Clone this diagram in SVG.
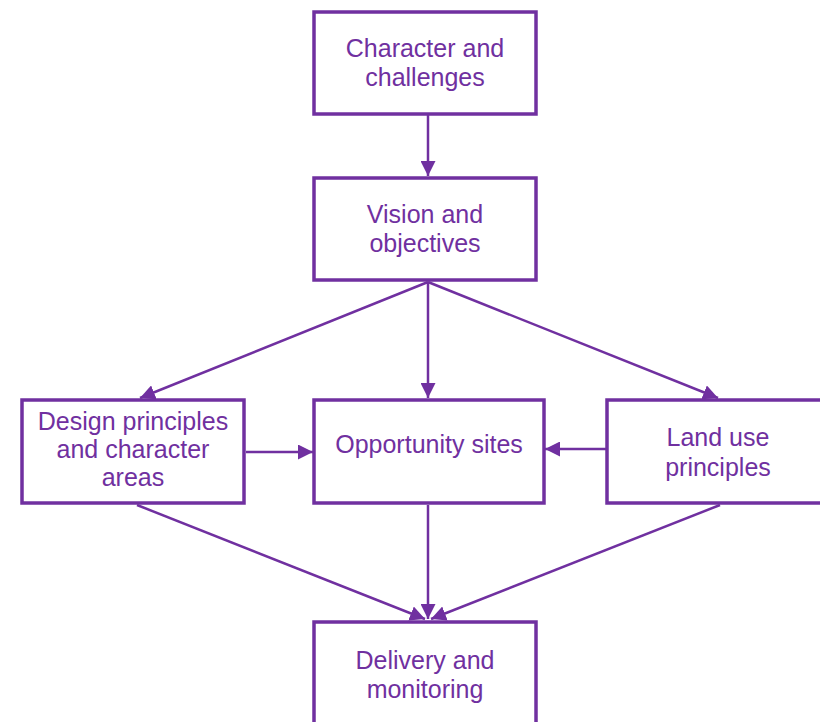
<svg xmlns="http://www.w3.org/2000/svg" width="820" height="722" viewBox="0 0 820 722">
<defs>
<style>
.box{fill:#fff;stroke:#7030A0;stroke-width:3.5}
.lbl{font-family:"Liberation Sans",Arial,sans-serif;font-size:25px;fill:#7030A0;text-anchor:middle}
.con{stroke:#7030A0;stroke-width:2.5;fill:none;marker-end:url(#ah)}
</style>
<marker id="ah" viewBox="0 0 10 10" refX="10" refY="5" markerWidth="6" markerHeight="6" markerUnits="strokeWidth" orient="auto">
<path d="M0,0 L10,5 L0,10 z" fill="#7030A0"/>
</marker>
</defs>
<rect width="820" height="722" fill="#fff"/>
<g id="connectors">
<line class="con" x1="428" y1="115" x2="428" y2="176"/>
<line class="con" x1="428" y1="282" x2="140" y2="398"/>
<line class="con" x1="428" y1="282" x2="428" y2="398"/>
<line class="con" x1="428" y1="282" x2="718" y2="398"/>
<line class="con" x1="246" y1="452" x2="313" y2="452"/>
<line class="con" x1="606" y1="449" x2="545" y2="449"/>
<line class="con" x1="137" y1="505" x2="425" y2="619"/>
<line class="con" x1="428" y1="505" x2="428" y2="619"/>
<line class="con" x1="720" y1="505" x2="431" y2="619"/>
</g>
<g id="n1"><rect class="box" x="314" y="12" width="222" height="102"/>
<text class="lbl" x="425" y="57">Character and</text><text class="lbl" x="425" y="86">challenges</text></g>
<g id="n2"><rect class="box" x="314" y="178" width="222" height="102"/>
<text class="lbl" x="425" y="223">Vision and</text><text class="lbl" x="425" y="252">objectives</text></g>
<g id="n3"><rect class="box" x="22" y="400" width="222" height="103"/>
<text class="lbl" x="133" y="430">Design principles</text><text class="lbl" x="133" y="458">and character</text><text class="lbl" x="133" y="486">areas</text></g>
<g id="n4"><rect class="box" x="314" y="400" width="230" height="103"/>
<text class="lbl" x="429" y="453">Opportunity sites</text></g>
<g id="n5"><rect class="box" x="607" y="400" width="222" height="103"/>
<text class="lbl" x="718" y="446">Land use</text><text class="lbl" x="718" y="476">principles</text></g>
<g id="n6"><rect class="box" x="314" y="622" width="222" height="110"/>
<text class="lbl" x="425" y="669">Delivery and</text><text class="lbl" x="425" y="698">monitoring</text></g>
</svg>
